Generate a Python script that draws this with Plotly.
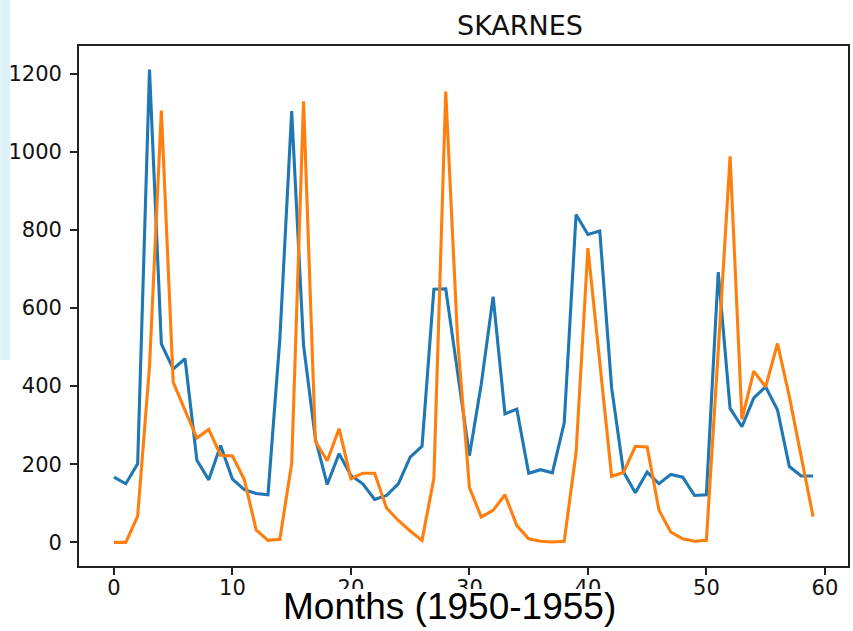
import plotly.graph_objects as go

# Monthly series for Skarnes, 1950-1955 (month index 0..59)
months = list(range(60))

observed = [167, 150, 201, 1210, 508, 444, 470, 210, 160, 248,
            162, 135, 125, 122, 520, 1104, 505, 265, 148, 227,
            171, 150, 110, 120, 150, 218, 246, 648, 649, 430,
            222, 405, 629, 329, 341, 177, 186, 178, 306, 839,
            788, 797, 396, 181, 127, 180, 150, 174, 167, 120,
            122, 692, 343, 296, 370, 398, 339, 194, 170, 170]

simulated = [0, 0, 67, 450, 1105, 410, 338, 267, 289, 223,
             221, 161, 32, 5, 8, 202, 1129, 258, 209, 291,
             163, 177, 177, 88, 56, 29, 5, 164, 1154, 520,
             140, 65, 82, 122, 43, 9, 3, 1, 3, 230,
             753, 460, 169, 179, 246, 244, 82, 26, 9, 3,
             5, 490, 988, 315, 438, 398, 509, 373, 220, 66]

x_ticks = [0, 10, 20, 30, 40, 50, 60]
y_ticks = [0, 200, 400, 600, 800, 1000, 1200]

fig = go.Figure()
fig.add_trace(go.Scatter(x=months, y=observed, mode="lines", name="observed",
                         line=dict(color="#1f77b4", width=3.1)))
fig.add_trace(go.Scatter(x=months, y=simulated, mode="lines", name="simulated",
                         line=dict(color="#ff7f0e", width=3.1)))

axis_common = dict(
    showgrid=False, zeroline=False, showline=True, mirror=True,
    linecolor="#222222", linewidth=1.7,
    ticks="outside", ticklen=7, tickwidth=1.7, tickcolor="#222222",
    tickfont=dict(family="DejaVu Sans", size=21, color="#111111"),
)

fig.update_xaxes(range=[-2.95, 61.95], tickvals=x_ticks, ticklabelstandoff=-5,
                 **axis_common)
fig.update_yaxes(range=[-60.5, 1270.5], tickvals=y_ticks, ticklabelstandoff=4,
                 **axis_common)

# faint strip of the backdrop on the far left
fig.add_shape(type="rect", xref="paper", yref="paper",
              x0=-0.1025, x1=-0.0895, y0=0.396, y1=1.09,
              fillcolor="#ddf1f8", line=dict(width=0), layer="below")

# white box behind the axis caption
fig.add_shape(type="rect", xref="paper", yref="paper",
              x0=0.2646, x1=0.6978, y0=-0.125, y1=-0.0442,
              fillcolor="white", line=dict(width=0), layer="above")

fig.add_annotation(text="SKARNES", xref="paper", yref="paper",
                   x=(521 - 79) / 771, y=1.0 + 20 / 520, xanchor="center",
                   yanchor="middle", showarrow=False,
                   font=dict(family="DejaVu Sans", size=27, color="#111111"))

fig.add_annotation(text="Months (1950-1955)", xref="paper", yref="paper",
                   x=(450 - 79) / 771, y=-(606 - 566) / 520, xanchor="center",
                   yanchor="middle", showarrow=False,
                   font=dict(family="Liberation Sans", size=37, color="#000000"))

fig.update_layout(
    width=853, height=631,
    margin=dict(l=79, r=3, t=46, b=65),
    paper_bgcolor="white", plot_bgcolor="white",
    showlegend=False,
)

fig.write_html("out.html")
